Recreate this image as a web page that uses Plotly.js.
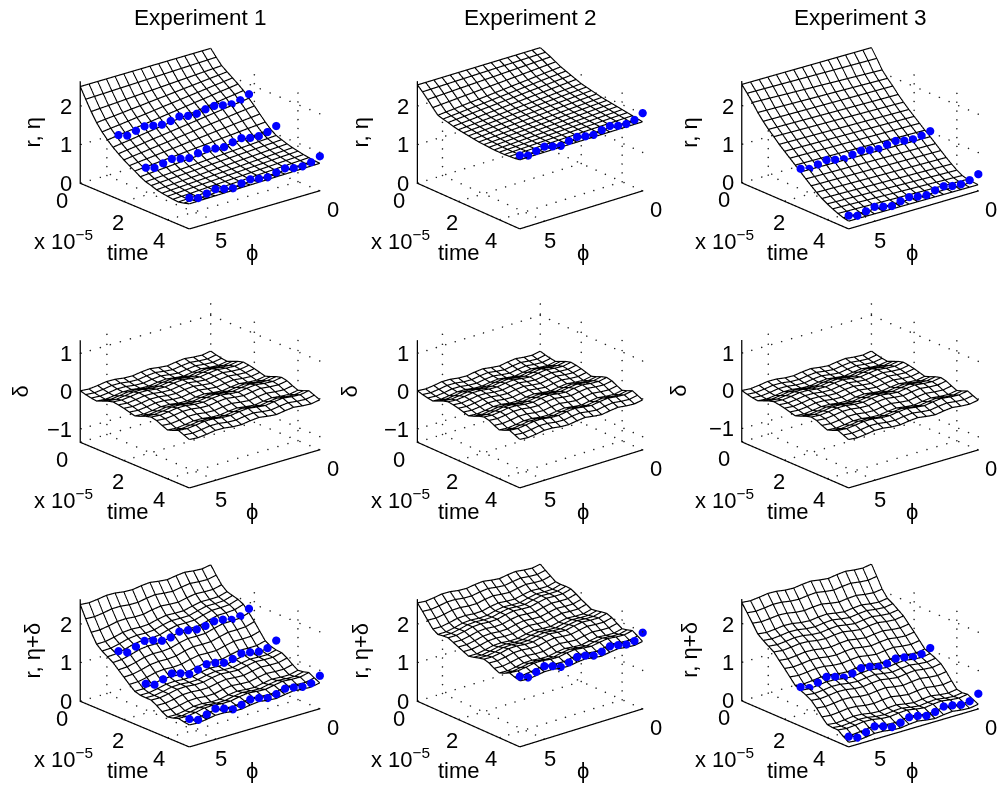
<!DOCTYPE html>
<html><head><meta charset="utf-8">
<script src="https://cdn.plot.ly/plotly-3.0.1.min.js"></script>
<style>html,body{margin:0;padding:0;background:#fff}#g{width:1000px;height:789px}</style></head>
<body><div id="g"></div>
<script>
// axis nodes
const phiNodes=[0,0.419,0.838,1.257,1.676,2.094,2.513,2.932,3.351,3.77,4.189,4.608,5.027,5.445,5.864,6.283];
const timeNodes=[0,0.25,0.5,0.75,1,1.25,1.5,1.75,2,2.25,2.5,2.75,3,3.25,3.5,3.75,4,4.25,4.5,4.75,5];
// surface height profiles over time at phi=0 and phi=2pi edges
const exp1Right=[2.50,2.33,2.17,2.07,1.97,1.87,1.76,1.62,1.48,1.33,1.18,1.05,0.95,0.90,0.85,0.81,0.78,0.75,0.73,0.71,0.70];
const exp1Left=[2.50,2.23,1.97,1.74,1.56,1.41,1.28,1.17,1.07,0.98,0.90,0.81,0.74,0.70,0.65,0.62,0.60,0.58,0.57,0.60,0.64];
const exp2Right=[2.52,2.46,2.40,2.33,2.26,2.21,2.16,2.11,2.06,2.03,2.00,1.97,1.94,1.92,1.90,1.88,1.86,1.84,1.82,1.80,1.78];
const exp2Left=[2.54,2.42,2.28,2.13,1.99,1.95,1.92,1.88,1.85,1.83,1.81,1.79,1.77,1.76,1.75,1.74,1.74,1.74,1.75,1.76,1.78];
const exp3Right=[2.52,2.30,2.06,1.90,1.76,1.60,1.46,1.33,1.21,1.09,0.97,0.86,0.74,0.62,0.50,0.39,0.29,0.21,0.17,0.16,0.15];
const exp3Left=[2.55,2.38,2.20,2.00,1.83,1.68,1.55,1.41,1.29,1.17,1.05,0.93,0.81,0.69,0.58,0.48,0.40,0.33,0.27,0.22,0.19];
const edgeMix=[0,0.07,0.13,0.2,0.27,0.33,0.4,0.47,0.53,0.6,0.67,0.73,0.8,0.87,0.93,1];
// ripple delta: time part and phi part
const deltaTime=[0,-0.04,-0.07,-0.09,-0.03,0.03,0.07,0.05,0.02,-0.02,-0.06,-0.01,0.05,0.09,0.06,-0.01,-0.07,-0.02,0.04,-0.02,-0.08];
const deltaPhi=[0.04,0,0.015,0.045,0.02,-0.015,0.01,0.045,0.025,-0.01,0,0.035,0.04,0.005,-0.02,0];
// measured points (ordered phi=0 .. 2pi)
const exp1RowA=[1.74,1.65,1.61,1.65,1.70,1.68,1.63,1.64,1.69,1.64,1.61,1.65,1.70,1.65,1.59,1.67];
const exp1RowB=[1.21,1.12,1.08,1.10,1.16,1.12,1.06,1.09,1.14,1.10,1.04,1.09,1.15,1.10,1.05,1.12];
const exp1RowC=[0.90,0.81,0.77,0.79,0.85,0.81,0.75,0.78,0.83,0.79,0.73,0.78,0.84,0.79,0.74,0.81];
const exp2RowA=[2.02,1.91,1.87,1.89,1.95,1.91,1.85,1.88,1.93,1.89,1.83,1.88,1.94,1.89,1.84,1.91];
const exp3RowA=[1.02,0.97,0.94,0.97,1.03,1.00,0.95,0.99,1.04,1.00,0.95,1.00,1.06,1.01,0.96,1.03];
const exp3RowB=[0.44,0.35,0.31,0.33,0.39,0.35,0.29,0.32,0.37,0.33,0.27,0.32,0.38,0.33,0.28,0.35];
const experiments=[
 {name:'Experiment 1',R:exp1Right,L:exp1Left,rows:[[7,exp1RowA],[12,exp1RowB],[20,exp1RowC]]},
 {name:'Experiment 2',R:exp2Right,L:exp2Left,rows:[[20,exp2RowA]]},
 {name:'Experiment 3',R:exp3Right,L:exp3Left,rows:[[11,exp3RowA],[20,exp3RowB]]}];
const zRanges=[[0,2.65],[-1.35,1.35],[0,2.65]];
const zTicks=[[0,1,2],[-1,0,1],[0,1,2]];
const zTitles=['r, η','δ','r, η+δ'];
const timeTicks=[0,2,4], phiTicks=[0,5];
// layout geometry (px)
const colCx=[200,530,860], rowCy=[136,395,654];
// azimuth, elevation, aspect xy, aspect z
const colEye=[[50.1,20.5,1.308,0.838],[50.2,21.8,1.23,0.846],[50.5,20.8,1.292,0.838]];
const D=260, CAM_R=2.2, MESH_LIFT=0.012;
const FONT='Liberation Sans, Arial, sans-serif', FS=22;
const zTitleX=[[-48,-57,-52],[-60,-68,-63],[-48,-57,-52]];

const PHI=2*Math.PI, TMAX=5;
const data=[]; const layout={width:1000,height:789,margin:{l:0,r:0,t:0,b:0},paper_bgcolor:'#fff',showlegend:false,annotations:[]};
function seg(list,a,b){list.x.push(a[0],b[0],null);list.y.push(a[1],b[1],null);list.z.push(a[2],b[2],null);}
function dots(list,a,b,n){for(let k=0;k<=n;k++){const f=k/n;list.x.push(a[0]+(b[0]-a[0])*f);list.y.push(a[1]+(b[1]-a[1])*f);list.z.push(a[2]+(b[2]-a[2])*f);}}
for(let r=0;r<3;r++)for(let c=0;c<3;c++){
  const id='scene'+(r*3+c+1===1?'':(r*3+c+1));
  const e=experiments[c], zr=zRanges[r];
  const z=timeNodes.map((t,i)=>phiNodes.map((p,j)=>{
    const base=e.R[i]+edgeMix[j]*(e.L[i]-e.R[i]);
    const d=deltaTime[i]+deltaPhi[j];
    return r===0?base:(r===1?d:base+d);
  }));
  data.push({type:'surface',scene:id,x:phiNodes,y:timeNodes,z:z,showscale:false,hoverinfo:'skip',
    colorscale:[[0,'#fff'],[1,'#fff']],
    lighting:{ambient:1,diffuse:0,specular:0,roughness:1,fresnel:0},
    contours:{x:{show:false,highlight:false},y:{show:false,highlight:false},z:{show:false,highlight:false}}});
  // mesh lines through the surface nodes
  const m={x:[],y:[],z:[]};
  timeNodes.forEach((t,i)=>{phiNodes.forEach((p,j)=>{m.x.push(p);m.y.push(t);m.z.push(z[i][j]+MESH_LIFT);});m.x.push(null);m.y.push(null);m.z.push(null);});
  phiNodes.forEach((p,j)=>{timeNodes.forEach((t,i)=>{m.x.push(p);m.y.push(t);m.z.push(z[i][j]+MESH_LIFT);});m.x.push(null);m.y.push(null);m.z.push(null);});
  data.push({type:'scatter3d',scene:id,mode:'lines',x:m.x,y:m.y,z:m.z,hoverinfo:'skip',connectgaps:false,line:{color:'#000',width:2.4}});
  // dotted grid
  const g={x:[],y:[],z:[]}, zm=zr[0], zM=zr[1];
  const tl=zTicks[r];
  timeTicks.forEach(t=>{dots(g,[0,t,zm],[PHI,t,zm],13);dots(g,[0,t,zm],[0,t,tl[2]+0.3],10);});
  phiTicks.forEach(p=>{dots(g,[p,0,zm],[p,TMAX,zm],11);dots(g,[p,0,zm],[p,0,tl[2]+0.3],10);});
  tl.forEach(v=>{dots(g,[0,0,v],[PHI,0,v],13);dots(g,[0,0,v],[0,TMAX,v],11);});
  data.push({type:'scatter3d',scene:id,mode:'markers',x:g.x,y:g.y,z:g.z,hoverinfo:'skip',marker:{size:0.9,color:'#222',line:{width:0}}});
  // axes
  const a={x:[],y:[],z:[]};
  seg(a,[PHI,0,zm],[PHI,0,zM]);seg(a,[PHI,0,zm],[PHI,TMAX,zm]);seg(a,[PHI,TMAX,zm],[0,TMAX,zm]);
  tl.forEach(v=>seg(a,[PHI,0,v],[PHI-0.07,0,v]));
  timeTicks.forEach(t=>seg(a,[PHI,t,zm],[PHI-0.07,t,zm]));
  phiTicks.forEach(p=>seg(a,[p,TMAX,zm],[p,TMAX-0.06,zm]));
  data.push({type:'scatter3d',scene:id,mode:'lines',x:a.x,y:a.y,z:a.z,hoverinfo:'skip',connectgaps:false,line:{color:'#000',width:2.5}});
  // measured dots
  if(r!==1)e.rows.forEach(([ti,vals])=>{
    data.push({type:'scatter3d',scene:id,mode:'markers',hoverinfo:'skip',
      x:phiNodes,y:phiNodes.map(()=>timeNodes[ti]),
      z:vals.map((v,j)=>r===0?v:v+deltaTime[ti]+deltaPhi[j]),
      marker:{size:4.8,color:'#0000ff',line:{width:0}}});
  });
  // camera
  const [az,el,asXY,asZ]=colEye[c];
  const A=az*Math.PI/180,E=el*Math.PI/180;
  const cx=colCx[c], cy=rowCy[r];
  const text=(x,y,zz,t,xs,ys,extra)=>Object.assign({x:x,y:y,z:zz,text:t,showarrow:false,xshift:xs,yshift:ys,xanchor:'center',yanchor:'middle',font:{family:FONT,size:FS,color:'#000'}},extra||{});
  const ann=[];
  tl.forEach(v=>ann.push(text(PHI,0,v,String(v).replace('-','−'),-6,0,{xanchor:'right'})));
  timeTicks.forEach((t,k)=>ann.push(text(PHI,t,zm,String(t),[-18,-6,-8][k],[-17,-21,-21][k])));
  phiTicks.forEach(p=>ann.push(text(p,TMAX,zm,String(p),p===0?13:5,-19)));
  ann.push(text(PHI,0,zm,'x 10<sup>−5</sup>',-17,-57));
  ann.push(text(PHI,TMAX,zm,'time',-61,-24));
  ann.push(text(PHI,TMAX,zm,'ϕ',63,-24));
  ann.push(text(PHI,0,(zm+zM)/2,zTitles[r],zTitleX[r][c],0,{textangle:-90}));
  layout[id]={
    domain:{x:[(cx-D/2)/1000,(cx+D/2)/1000],y:[1-(cy+D/2)/789,1-(cy-D/2)/789]},
    aspectmode:'manual',aspectratio:{x:asXY,y:asXY,z:asZ},
    bgcolor:'rgba(0,0,0,0)',
    camera:{projection:{type:'orthographic'},up:{x:0,y:0,z:1},center:{x:0,y:0,z:0},
      eye:{x:CAM_R*Math.cos(E)*Math.cos(A),y:CAM_R*Math.cos(E)*Math.sin(A),z:CAM_R*Math.sin(E)}},
    xaxis:{visible:false,range:[0,PHI],showspikes:false},
    yaxis:{visible:false,range:[0,TMAX],showspikes:false},
    zaxis:{visible:false,range:zr,showspikes:false},
    annotations:ann};
}
experiments.forEach((e,c)=>layout.annotations.push({xref:'paper',yref:'paper',x:colCx[c]/1000,y:1-17/789,text:e.name,showarrow:false,xanchor:'center',yanchor:'middle',font:{family:FONT,size:22.5,color:'#000'}}));
Plotly.newPlot('g',data,layout,{displayModeBar:false});
</script></body></html>
